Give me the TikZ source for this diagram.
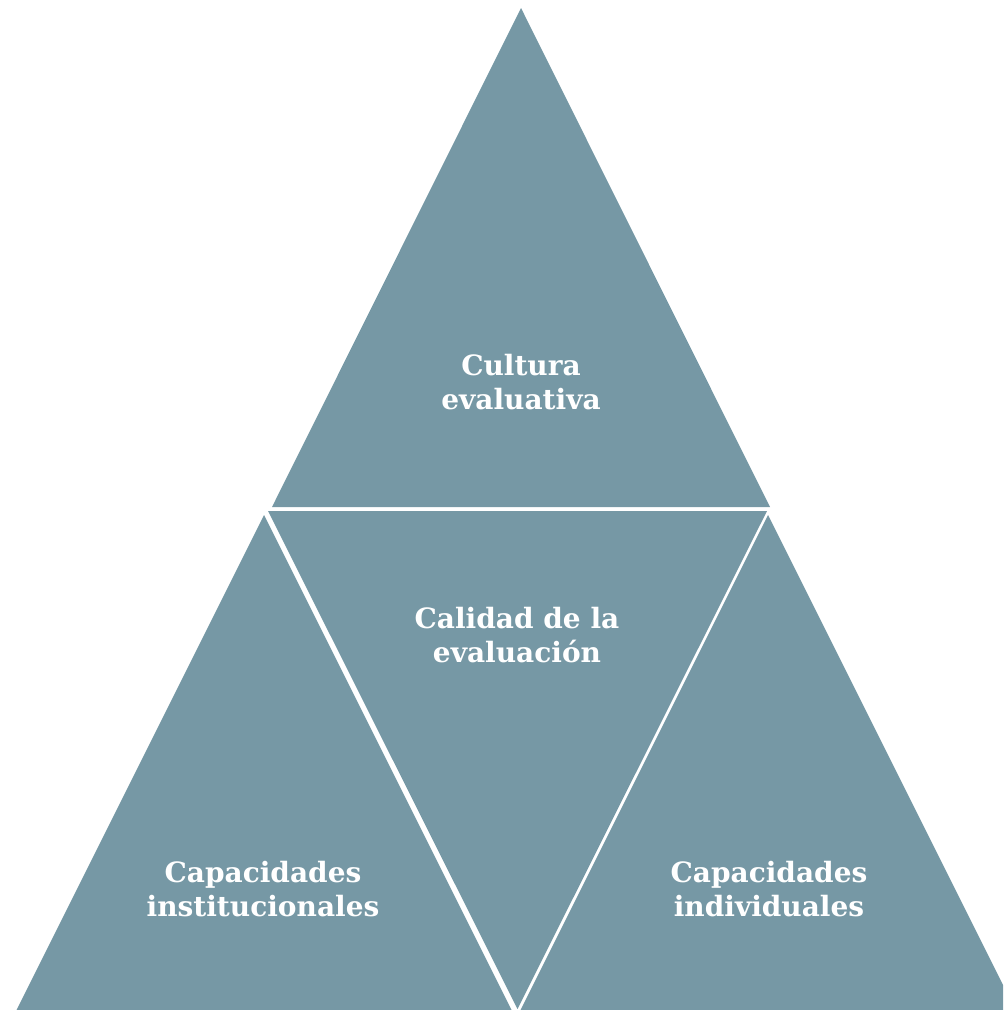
\documentclass[tikz,border=0pt]{standalone}
\usepackage{fontspec}
\newfontfamily\lblfont{DejaVu Serif}
\definecolor{tri}{HTML}{7698A5}
\begin{document}
\begin{tikzpicture}[x=0.75pt,y=-0.75pt,
  tri/.style={fill=tri,draw=none},
  lbl/.style={text=white,font=\lblfont\fontsize{21}{25.5}\selectfont\bfseries,align=center}]
\useasboundingbox (0,0) rectangle (1003,1010);
\clip (0,0) rectangle (1003,1010);
\fill[tri] (521,8) -- (272,507) -- (770,507) -- cycle;
\fill[tri] (268,511) -- (767,511) -- (517.5,1009) -- cycle;
\fill[tri] (264,515) -- (511.5,1010) -- (16.5,1010) -- cycle;
\fill[tri] (768,515) -- (1015.5,1010) -- (520.5,1010) -- cycle;
\node[lbl] (top) at (521,382) {Cultura\\evaluativa};
\node[lbl] (mid) at (517,635) {Calidad de la\\evaluación};
\node[lbl] (left) at (263,889) {Capacidades\\institucionales};
\node[lbl] (right) at (769,889) {Capacidades\\individuales};
\end{tikzpicture}
\end{document}
